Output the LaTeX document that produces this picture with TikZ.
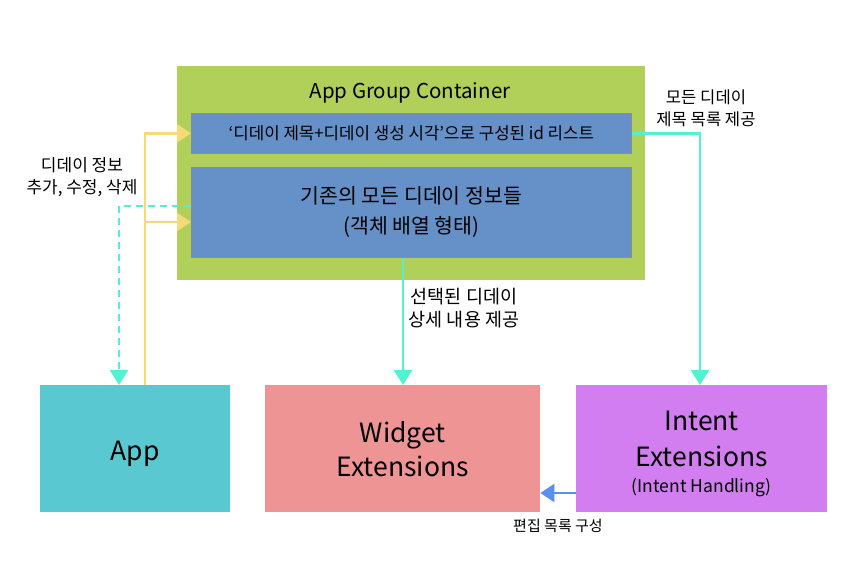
\documentclass[tikz,border=0pt]{standalone}
\usepackage{fontspec}
\setmainfont{Noto Sans CJK KR}
\usetikzlibrary{arrows.meta,calc}
\definecolor{cgreen}{HTML}{B0D05A}
\definecolor{cblue}{HTML}{6690C8}
\definecolor{cgreyb}{HTML}{8C8C8C}
\definecolor{capp}{HTML}{5AC8D0}
\definecolor{cwidget}{HTML}{EE9494}
\definecolor{cintent}{HTML}{D27EF0}
\definecolor{ccyan}{HTML}{50F2D2}
\definecolor{cyellow}{HTML}{F5DA7A}
\definecolor{carrowblue}{HTML}{5B8FEF}
\tikzset{
  boxbase/.style={inner sep=0pt, anchor=north west, align=center},
  cyanline/.style={draw=ccyan, line width=2.6bp, -{Triangle[length=15bp,width=18bp]}},
  yellowline/.style={draw=cyellow, line width=2.6bp, -{Triangle[length=14bp,width=18bp]}},
  blueline/.style={draw=carrowblue, line width=2.6bp, -{Triangle[length=14bp,width=18bp]}},
  lbl/.style={align=center, font=\fontsize{17bp}{22bp}\selectfont},
}
\begin{document}
\begin{tikzpicture}[x=1bp,y=-1bp]
\useasboundingbox[fill=white] (0,0) rectangle (868,585);
% container
\node[boxbase, fill=cgreen, minimum width=468bp, minimum height=214bp] (cont) at (177,66) {};
\node[font=\fontsize{20.5bp}{24bp}\selectfont] (conttitle) at (410,93) {App Group Container};
\node[boxbase, fill=cblue, draw=cgreyb, line width=0.8bp, minimum width=440bp, minimum height=40bp,
      font=\fontsize{16.8bp}{20bp}\selectfont] (b1) at (191,113) {‘디데이 제목+디데이 생성 시각’으로 구성된 id 리스트};
\node[boxbase, fill=cblue, draw=cgreyb, line width=0.8bp, minimum width=440bp, minimum height=90bp,
      font=\fontsize{20.5bp}{30bp}\selectfont] (b2) at (191,167) {기존의 모든 디데이 정보들\\(객체 배열 형태)};
% bottom boxes
\node[boxbase, fill=capp, minimum width=190bp, minimum height=127bp, text depth=0pt,
      font=\fontsize{26.5bp}{30bp}\selectfont] (app) at (40,385) {\raisebox{-4bp}{App}};
\node[boxbase, fill=cwidget, minimum width=275bp, minimum height=127bp,
      font=\fontsize{26.5bp}{34bp}\selectfont] (widget) at (265,385) {Widget\\Extensions};
\node[boxbase, fill=cintent, minimum width=251bp, minimum height=127bp] (intent) at (576,385) {};
\node[align=center, inner sep=0pt, font=\fontsize{26.5bp}{36bp}\selectfont] (intenttext) at ($(intent.center)+(0,5)$)
  {Intent\\Extensions\\[-10bp]{\fontsize{17.5bp}{20bp}\selectfont (Intent Handling)}};
% coordinates
\coordinate (yx) at (145,0);
\coordinate (cx) at (119,0);
\coordinate (wx) at (403,0);
\coordinate (ix) at (700,0);
\coordinate (y2) at (0,222);
\coordinate (c2) at (0,206);
\coordinate (bl) at (0,493);
% yellow arrows (App -> container)
\draw[yellowline] (app.north -| yx) |- (b1.west);
\draw[yellowline] (yx |- y2) -- (b2.west |- y2);
% cyan dashed (container -> App)
\draw[cyanline, dash pattern=on 7bp off 5bp] (b2.west |- c2) -| (app.north -| cx);
% cyan to widget
\draw[cyanline] (b2.south -| wx) -- (widget.north -| wx);
% cyan to intent
\draw[cyanline] (b1.east) -| (intent.north -| ix);
% blue intent -> widget
\draw[blueline] (intent.west |- bl) -- (widget.east |- bl);
% labels
\node[lbl] (l1) at (82,177) {디데이 정보\\추가, 수정, 삭제};
\node[lbl, font=\fontsize{18.5bp}{23bp}\selectfont] (l2) at (464,308) {선택된 디데이\\상세 내용 제공};
\node[lbl, font=\fontsize{16.6bp}{22bp}\selectfont] (l3) at (706,108) {모든 디데이\\제목 목록 제공};
\node[font=\fontsize{15bp}{18bp}\selectfont] (l4) at (558,526) {편집 목록 구성};
\end{tikzpicture}
\end{document}
